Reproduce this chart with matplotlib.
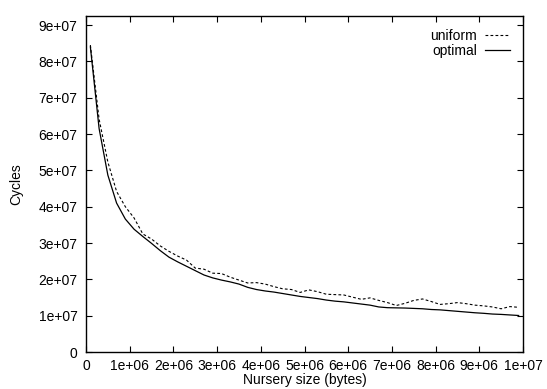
import matplotlib
matplotlib.use("Agg")
import matplotlib.pyplot as plt
from matplotlib.ticker import FixedLocator

plt.rcParams['font.family'] = ['Liberation Sans', 'DejaVu Sans']

# Nursery sizes (bytes)
nursery = [1e5, 3e5, 5e5, 7e5, 9e5, 1.1e6, 1.3e6, 1.5e6, 1.7e6, 1.9e6,
           2.1e6, 2.3e6, 2.5e6, 2.7e6, 2.9e6, 3.1e6, 3.3e6, 3.5e6, 3.7e6, 3.9e6,
           4.1e6, 4.3e6, 4.5e6, 4.7e6, 4.9e6, 5.1e6, 5.3e6, 5.5e6, 5.7e6, 5.9e6,
           6.1e6, 6.3e6, 6.5e6, 6.7e6, 6.9e6, 7.1e6, 7.3e6, 7.5e6, 7.7e6, 7.9e6,
           8.1e6, 8.3e6, 8.5e6, 8.7e6, 8.9e6, 9.1e6, 9.3e6, 9.5e6, 9.7e6, 9.9e6]

# Cycles (units of 1e7)
uniform = [8.45, 6.41, 5.23, 4.42, 4.00, 3.69, 3.25, 3.11, 2.92, 2.77,
           2.64, 2.53, 2.31, 2.28, 2.17, 2.16, 2.06, 1.98, 1.90, 1.91,
           1.87, 1.80, 1.74, 1.72, 1.64, 1.71, 1.66, 1.59, 1.58, 1.57,
           1.51, 1.45, 1.49, 1.42, 1.36, 1.28, 1.34, 1.42, 1.46, 1.39,
           1.31, 1.33, 1.36, 1.33, 1.29, 1.27, 1.24, 1.19, 1.25, 1.23]

optimal = [8.40, 6.15, 4.87, 4.10, 3.66, 3.38, 3.18, 2.99, 2.79, 2.61,
           2.48, 2.36, 2.24, 2.12, 2.04, 1.98, 1.93, 1.87, 1.78, 1.72,
           1.68, 1.65, 1.61, 1.57, 1.53, 1.50, 1.47, 1.43, 1.40, 1.38,
           1.35, 1.32, 1.29, 1.24, 1.22, 1.215, 1.21, 1.20, 1.19, 1.17,
           1.16, 1.14, 1.12, 1.10, 1.08, 1.065, 1.045, 1.035, 1.02, 1.005]

xticks = [0, 1e6, 2e6, 3e6, 4e6, 5e6, 6e6, 7e6, 8e6, 9e6, 1e7]
xlabels = ["0", "1e+06", "2e+06", "3e+06", "4e+06", "5e+06", "6e+06",
           "7e+06", "8e+06", "9e+06", "1e+07"]
yticks = [0, 1e7, 2e7, 3e7, 4e7, 5e7, 6e7, 7e7, 8e7, 9e7]
ylabels = ["0", "1e+07", "2e+07", "3e+07", "4e+07", "5e+07", "6e+07",
           "7e+07", "8e+07", "9e+07"]

fig = plt.figure(figsize=(5.47, 3.89), dpi=100)
ax = fig.add_axes([86 / 547, 37 / 389, 437 / 547, 336 / 389])

ax.plot(nursery, [v * 1e7 for v in uniform], color="black", lw=0.8,
        linestyle=(0, (2.5, 2)), label="uniform")
ax.plot(nursery, [v * 1e7 for v in optimal], color="black", lw=0.9,
        label="optimal")

ax.set_xlim(0, 1e7)
ax.set_ylim(0, 9.25e7)
ax.xaxis.set_major_locator(FixedLocator(xticks))
ax.yaxis.set_major_locator(FixedLocator(yticks))
ax.set_xticklabels(xlabels)
ax.set_yticklabels(ylabels)
ax.tick_params(direction="in", top=True, right=True, length=4, width=0.8,
               labelsize=10)
ax.tick_params(axis="y", pad=6)
ax.tick_params(axis="x", pad=5)
for s in ax.spines.values():
    s.set_linewidth(1.0)

ax.set_xlabel("Nursery size (bytes)", fontsize=10, labelpad=0)
ax.set_ylabel("Cycles", fontsize=10, labelpad=11)

leg = ax.legend(loc="upper right", frameon=False, markerfirst=False,
                fontsize=10, handlelength=1.8, handletextpad=0.6,
                labelspacing=0.1, borderpad=0, borderaxespad=0.9)
for t in leg.get_texts():
    t.set_ha("right")

fig.savefig("out.png", dpi=100)
